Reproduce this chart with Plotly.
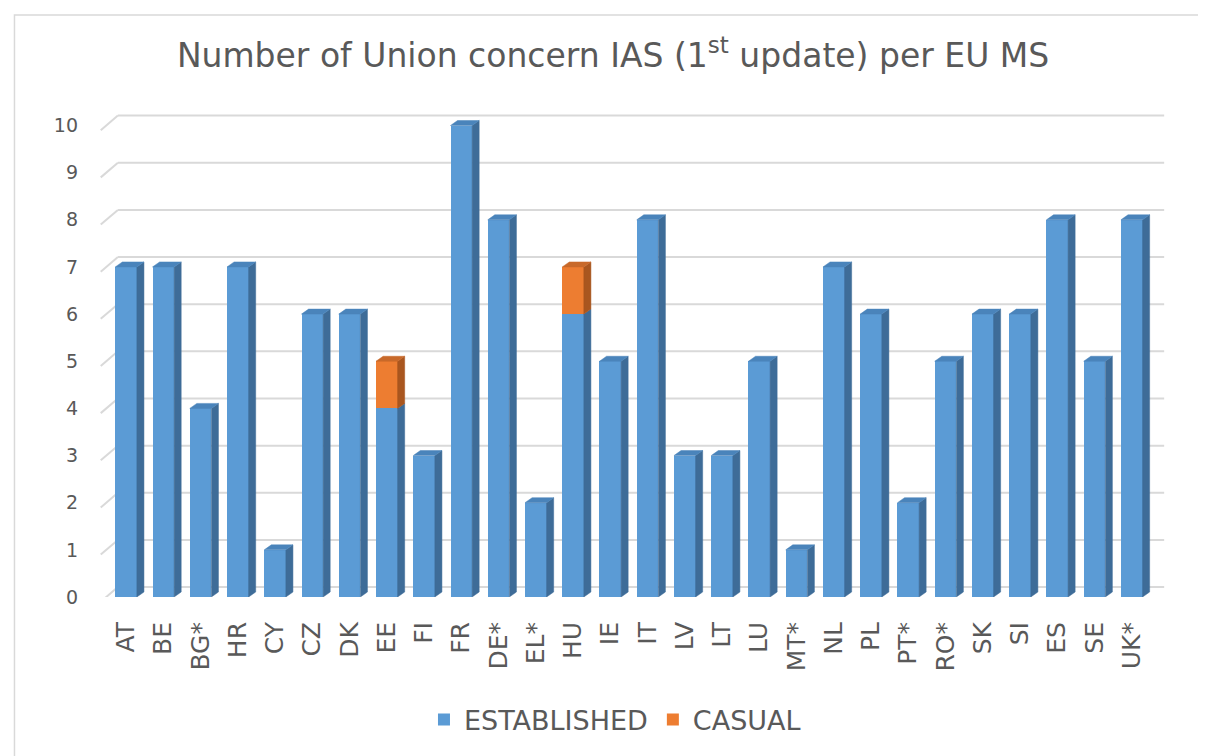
import plotly.graph_objects as go

countries = ["AT", "BE", "BG*", "HR", "CY", "CZ", "DK", "EE", "FI", "FR", "DE*", "EL*", "HU", "IE",
             "IT", "LV", "LT", "LU", "MT*", "NL", "PL", "PT*", "RO*", "SK", "SI", "ES", "SE", "UK*"]
established = [7, 7, 4, 7, 1, 6, 6, 4, 3, 10, 8, 2, 6, 5, 8, 3, 3, 5, 1, 7, 6, 2, 5, 6, 6, 8, 5, 8]
casual = [0, 0, 0, 0, 0, 0, 0, 1, 0, 0, 0, 0, 1, 0, 0, 0, 0, 0, 0, 0, 0, 0, 0, 0, 0, 0, 0, 0]
y_ticks = list(range(0, 11))

BLUE, BLUE_SIDE, BLUE_TOP = "#5b9bd5", "#3e6c98", "#4a84bb"
ORANGE, ORANGE_SIDE, ORANGE_TOP = "#ed7d31", "#a9561f", "#c8692a"
GRID = "#d9d9d9"
TXT = "#595959"
FONT = "DejaVu Sans"

W = 0.58      # front width (category units)
DX = 0.19     # depth in x
DY = 0.106    # depth in y
GOFF = 0.21   # back-wall grid offset

idx = list(range(len(countries)))
fig = go.Figure()

# front faces
fig.add_trace(go.Bar(x=idx, y=established, name="ESTABLISHED", width=W,
                     marker=dict(color=BLUE, line=dict(width=0))))
fig.add_trace(go.Bar(x=idx, y=casual, name="CASUAL", width=W,
                     marker=dict(color=ORANGE, line=dict(width=0))))


def side_poly(i, y0, y1):
    r = i + W / 2
    return [r, r + DX, r + DX, r, r, None], [y0, y0 + DY, y1 + DY, y1, y0, None]


def top_poly(i, v):
    l, r = i - W / 2, i + W / 2
    return [l, r, r + DX, l + DX, l, None], [v, v, v + DY, v + DY, v, None]


faces = {"bs": ([], []), "os": ([], []), "bt": ([], []), "ot": ([], [])}
for i, (e, c) in enumerate(zip(established, casual)):
    xs, ys = side_poly(i, 0, e)
    faces["bs"][0].extend(xs); faces["bs"][1].extend(ys)
    if c > 0:
        xs, ys = side_poly(i, e, e + c)
        faces["os"][0].extend(xs); faces["os"][1].extend(ys)
        xs, ys = top_poly(i, e + c)
        faces["ot"][0].extend(xs); faces["ot"][1].extend(ys)
    else:
        xs, ys = top_poly(i, e)
        faces["bt"][0].extend(xs); faces["bt"][1].extend(ys)

for key, col in [("bs", BLUE_SIDE), ("os", ORANGE_SIDE), ("bt", BLUE_TOP), ("ot", ORANGE_TOP)]:
    fig.add_trace(go.Scatter(x=faces[key][0], y=faces[key][1], mode="lines", fill="toself",
                             fillcolor=col, line=dict(color=col, width=0.5),
                             showlegend=False, hoverinfo="skip", connectgaps=False))

# back-wall gridlines with diagonal connectors
XMIN, XMAX = -0.7, 28.0
GRID_X0, GRID_X1 = -0.22, 27.87
shapes = []
for t in y_ticks:
    shapes.append(dict(type="line", xref="x", yref="y", x0=XMIN + 0.02, y0=t - 0.1,
                       x1=GRID_X0, y1=t + GOFF, line=dict(color=GRID, width=2), layer="below"))
    shapes.append(dict(type="line", xref="x", yref="y", x0=GRID_X0, y0=t + GOFF,
                       x1=GRID_X1, y1=t + GOFF, line=dict(color=GRID, width=2), layer="below"))
# outer chart border
shapes.append(dict(type="rect", xref="paper", yref="paper", x0=-0.080, x1=1.3, y0=-0.6, y1=1.1805,
                   line=dict(color="#d9d9d9", width=1.5), layer="below"))

fig.update_layout(
    width=1206, height=756,
    margin=dict(l=91.6, r=45, t=96, b=167),
    barmode="stack",
    bargap=0,
    plot_bgcolor="white", paper_bgcolor="white",
    font=dict(family=FONT, color=TXT),
    title=dict(text="Number of Union concern IAS (1<sup>st</sup> update) per EU MS",
               x=0.5017, xref="container", xanchor="center",
               y=0.9378, yref="container", yanchor="middle",
               font=dict(family=FONT, size=33, color=TXT)),
    xaxis=dict(range=[XMIN, XMAX], tickmode="array", tickvals=idx, ticktext=countries,
               tickangle=-90, showgrid=False, zeroline=False, showline=False,
               tickfont=dict(family=FONT, size=25, color=TXT), ticks="", ticklabelstandoff=19),
    yaxis=dict(range=[0, 10.456], tickmode="array", tickvals=y_ticks, showgrid=False,
               zeroline=False, showline=False, tickfont=dict(family=FONT, size=19, color=TXT),
               ticks="", ticklabelstandoff=21),
    legend=dict(orientation="h", x=0.5033, xref="container", xanchor="center",
                y=0.0582, yref="container", yanchor="middle",
                font=dict(family=FONT, size=27, color=TXT), itemwidth=30,
                traceorder="normal"),
    shapes=shapes,
    showlegend=True,
)

fig.write_html("out.html")
